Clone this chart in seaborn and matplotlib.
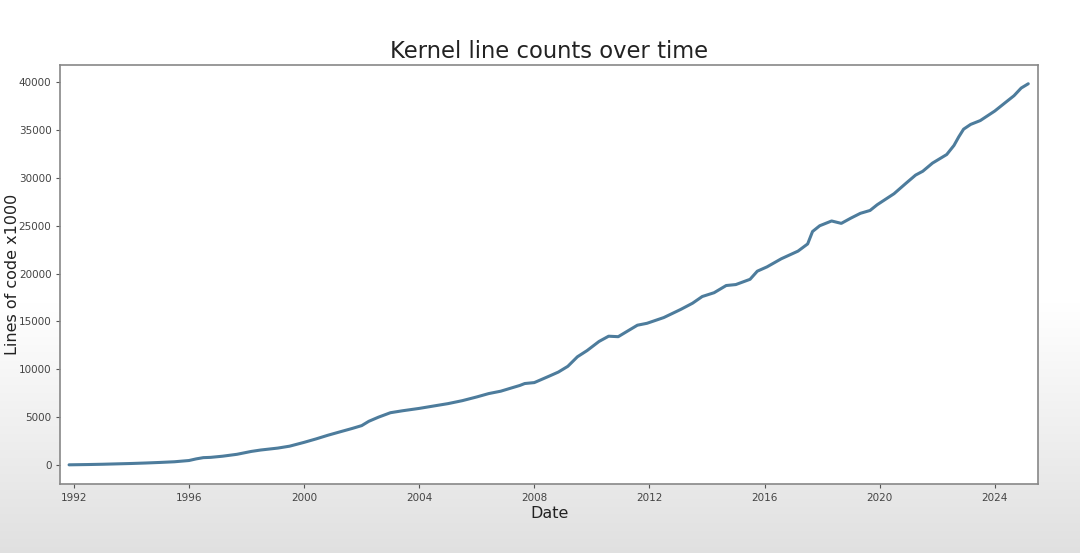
import matplotlib
matplotlib.use("Agg")
import matplotlib.pyplot as plt
import matplotlib.dates as mdates
import numpy as np
import pandas as pd
import seaborn as sns

dates = [
    "1991-11", "1992-07", "1993-01", "1993-07", "1994-01", "1994-07", "1995-01", "1995-07",
    "1996-01", "1996-04", "1996-07", "1996-10", "1997-03", "1997-09", "1998-03", "1998-07",
    "1999-02", "1999-07", "2000-01", "2000-06", "2000-11", "2001-04", "2001-09", "2002-01",
    "2002-04", "2002-08", "2003-01", "2003-06", "2004-01", "2004-07", "2005-01", "2005-07",
    "2006-01", "2006-06", "2006-11", "2007-03", "2007-07", "2007-09", "2008-01", "2008-07",
    "2008-11", "2009-03", "2009-07", "2009-11", "2010-04", "2010-08", "2010-12", "2011-04",
    "2011-08", "2011-12", "2012-07", "2013-02", "2013-07", "2013-11", "2014-04", "2014-09",
    "2015-01", "2015-07", "2015-10", "2016-02", "2016-08", "2017-03", "2017-07", "2017-09",
    "2017-12", "2018-05", "2018-09", "2019-01", "2019-05", "2019-09", "2019-12", "2020-07",
    "2020-12", "2021-04", "2021-07", "2021-11", "2022-05", "2022-08", "2022-10", "2022-12",
    "2023-03", "2023-07", "2024-01", "2024-06", "2024-09", "2024-12", "2025-03",
]
lines_k = [
    0, 30, 60, 100, 140, 190, 250, 320,
    450, 620, 750, 780, 900, 1100, 1400, 1550,
    1750, 1950, 2350, 2710, 3100, 3450, 3800, 4100,
    4550, 4980, 5450, 5650, 5900, 6150, 6400, 6710,
    7100, 7450, 7700, 8000, 8300, 8500, 8600, 9250,
    9700, 10300, 11300, 11950, 12900, 13450, 13400, 14000,
    14600, 14800, 15400, 16250, 16900, 17600, 18000, 18750,
    18850, 19400, 20250, 20700, 21550, 22350, 23100, 24400,
    25000, 25500, 25250, 25800, 26300, 26600, 27200, 28350,
    29450, 30300, 30700, 31550, 32450, 33400, 34300, 35100,
    35600, 36000, 37000, 38000, 38600, 39400, 39850,
]
title = "Kernel line counts over time"
xlabel = "Date"
ylabel = "Lines of code x1000"

df = pd.DataFrame({"Date": pd.to_datetime(dates), "Lines": lines_k})

sns.set_style("ticks")
plt.rcParams["font.family"] = ["DejaVu Sans"]

fig = plt.figure(figsize=(10.8, 5.53), dpi=100)

# soft gray gradient in the lower part of the frame
bg = fig.add_axes([0, 0, 1, 1], zorder=-10)
grad = np.linspace(0, 1, 256)
shade = np.clip((grad - 0.55) / 0.45, 0, 1)
vals = 1.0 - 0.12 * shade
img = np.repeat(vals[:, None], 2, axis=1)
bg.imshow(np.dstack([img, img, img]), aspect="auto", extent=[0, 1, 0, 1], origin="upper",
          vmin=0, vmax=1)
bg.set_axis_off()

ax = fig.add_axes([0.056, 0.125, 0.905, 0.758])
ax.set_facecolor("white")
sns.lineplot(data=df, x="Date", y="Lines", ax=ax, color="#4d7c9c", linewidth=2.2)

ax.set_xlim(pd.Timestamp("1991-07-15"), pd.Timestamp("2025-07-01"))
ax.xaxis.set_major_locator(mdates.YearLocator(4))
ax.xaxis.set_major_formatter(mdates.DateFormatter("%Y"))
ax.set_title(title, fontsize=16.3, color="#222222", pad=5)
ax.set_xlabel(xlabel, fontsize=11.5, color="#222222", labelpad=2)
ax.set_ylabel(ylabel, fontsize=11.5, color="#222222")
ax.yaxis.set_label_coords(-0.041, 0.5)
ax.tick_params(axis="both", labelsize=7.5, colors="#555555", length=3)
for lbl in ax.get_xticklabels() + ax.get_yticklabels():
    lbl.set_color("#444444")
for s in ax.spines.values():
    s.set_visible(True)
    s.set_color("#888888")
    s.set_linewidth(1.2)

fig.savefig("out.png", dpi=100)
